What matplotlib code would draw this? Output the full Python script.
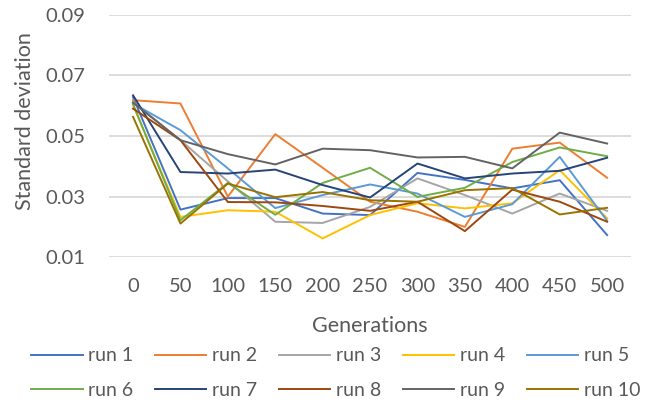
import matplotlib.pyplot as plt

generations = ["0", "50", "100", "150", "200", "250", "300", "350", "400", "450", "500"]

run1 = [0.0628, 0.0257, 0.0295, 0.0295, 0.0244, 0.0239, 0.0378, 0.0355, 0.0327, 0.0354, 0.0173]
run2 = [0.0618, 0.0607, 0.0300, 0.0506, 0.0395, 0.0283, 0.0250, 0.0200, 0.0458, 0.0478, 0.0362]
run3 = [0.0612, 0.0486, 0.0350, 0.0217, 0.0213, 0.0266, 0.0360, 0.0305, 0.0244, 0.0310, 0.0253]
run4 = [0.0602, 0.0233, 0.0255, 0.0250, 0.0162, 0.0239, 0.0278, 0.0261, 0.0278, 0.0387, 0.0228]
run5 = [0.0607, 0.0519, 0.0393, 0.0262, 0.0305, 0.0340, 0.0310, 0.0233, 0.0275, 0.0431, 0.0220]
run6 = [0.0605, 0.0222, 0.0345, 0.0240, 0.0345, 0.0395, 0.0299, 0.0329, 0.0414, 0.0462, 0.0433]
run7 = [0.0634, 0.0381, 0.0376, 0.0389, 0.0338, 0.0297, 0.0409, 0.0360, 0.0376, 0.0385, 0.0428]
run8 = [0.0590, 0.0486, 0.0282, 0.0281, 0.0269, 0.0253, 0.0283, 0.0186, 0.0323, 0.0283, 0.0217]
run9 = [0.0610, 0.0486, 0.0440, 0.0406, 0.0458, 0.0453, 0.0429, 0.0431, 0.0393, 0.0511, 0.0475]
run10 = [0.0563, 0.0211, 0.0343, 0.0298, 0.0315, 0.0288, 0.0283, 0.0321, 0.0328, 0.0241, 0.0263]

runs = [run1, run2, run3, run4, run5, run6, run7, run8, run9, run10]
run_names = ["run %d" % (i + 1) for i in range(len(runs))]
y_ticks = [0.01, 0.03, 0.05, 0.07, 0.09]

# office palette
colors = ["#4472C4", "#ED7D31", "#A5A5A5", "#FFC000", "#5B9BD5",
          "#70AD47", "#264478", "#9E480E", "#636363", "#997300"]

plt.rcParams['font.family'] = ['Lato', 'DejaVu Sans']
text_color = "#595959"

fig = plt.figure(figsize=(6.47, 4.07), dpi=100)
ax = fig.add_axes([0.169, 0.368, 0.806, 0.596])

x = list(range(len(generations)))
handles = []
for values, name, color in zip(runs, run_names, colors):
    line, = ax.plot(x, values, color=color, lw=1.4, label=name)
    handles.append(line)

ax.set_xlim(-0.5, len(generations) - 0.5)
ax.set_ylim(0.01, 0.09)
ax.set_yticks(y_ticks)
ax.set_yticklabels(["%.2f" % v for v in y_ticks])
ax.set_xticks(x)
ax.set_xticklabels(generations)
ax.yaxis.grid(True, color="#D9D9D9", lw=1.3)
ax.set_axisbelow(True)
for side in ["top", "right", "left", "bottom"]:
    ax.spines[side].set_visible(False)
ax.tick_params(length=0, labelsize=14.5, colors=text_color)
ax.tick_params(axis="x", pad=15)
ax.tick_params(axis="y", pad=17)

ax.set_xlabel("Generations", fontsize=15.5, color=text_color, labelpad=15)
ax.set_ylabel("Standard deviation", fontsize=15.5, color=text_color)
ax.yaxis.set_label_coords(-0.142, 0.56)

# legend fills column by column, so reorder to read row by row
ncol = 5
order = [r * ncol + c for c in range(ncol) for r in range(2)]
fig.legend([handles[i] for i in order], [run_names[i] for i in order],
           loc="center", bbox_to_anchor=(0.519, 0.083), ncol=ncol, frameon=False,
           fontsize=14, handlelength=2.65, handletextpad=0.3,
           columnspacing=1.1, labelspacing=0.9, labelcolor=text_color)

fig.savefig("out.png", dpi=100)
